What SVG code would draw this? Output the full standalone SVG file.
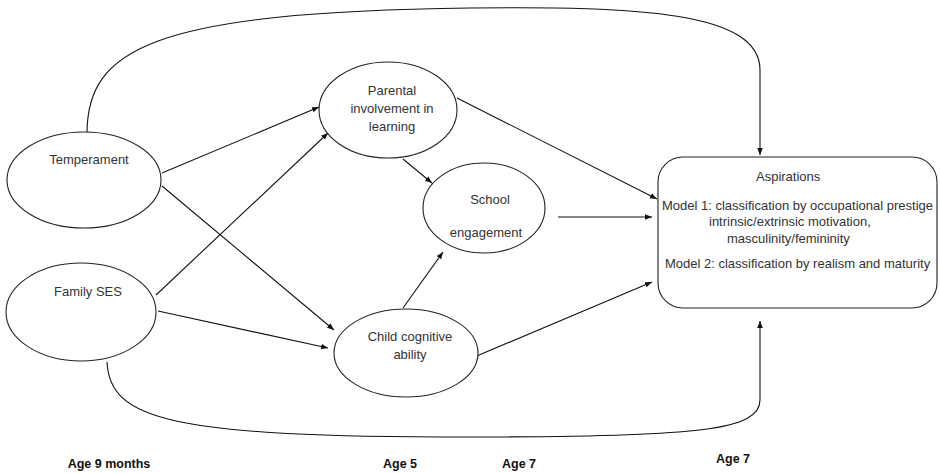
<svg xmlns="http://www.w3.org/2000/svg" width="940" height="473" viewBox="0 0 940 473">
<defs>
<marker id="ah" viewBox="0 0 10 10" refX="10" refY="5" markerWidth="7" markerHeight="7" markerUnits="userSpaceOnUse" orient="auto">
<path d="M0,1 L10,5 L0,9 z" fill="#111"/>
</marker>
</defs>
<style>
.node{fill:#fff;stroke:#222;stroke-width:1.1}
.lbl{font-family:"Liberation Sans",Arial,sans-serif;font-size:13px;fill:#333;text-anchor:middle}
.box{font-family:"Liberation Sans",Arial,sans-serif;font-size:13px;fill:#333}
.age{font-family:"Liberation Sans",Arial,sans-serif;font-size:12.5px;font-weight:bold;fill:#111;text-anchor:middle}
.edge{fill:none;stroke:#111;stroke-width:1.1;marker-end:url(#ah)}
</style>
<rect width="940" height="473" fill="#fff"/>
<g id="connectors">
<path class="edge" d="M87,132 C88,50 150,12 470,8 C640,6 760,12 760,70 L760,155"/>
<path class="edge" d="M107,362 C110,420 170,437 470,437 C700,437 760,430 760,400 L760,321"/>
<path class="edge" d="M162,173 L319,107"/>
<path class="edge" d="M162,186 L334,330"/>
<path class="edge" d="M156,295 L328,133"/>
<path class="edge" d="M158,311 L328,348"/>
<path class="edge" d="M403,159 L432,183"/>
<path class="edge" d="M403,308 L443,252"/>
<path class="edge" d="M457,98 L657,199"/>
<path class="edge" d="M558,217 L652,217"/>
<path class="edge" d="M472,358 L652,282"/>
</g>
<g id="temperament">
<ellipse class="node" cx="84" cy="180" rx="77" ry="48"/>
<text class="lbl" x="89" y="164">Temperament</text>
</g>
<g id="family-ses">
<ellipse class="node" cx="81" cy="312" rx="75" ry="49"/>
<text class="lbl" x="88" y="296">Family SES</text>
</g>
<g id="parental">
<ellipse class="node" cx="388" cy="110" rx="69" ry="48"/>
<text class="lbl" x="392" y="95">Parental</text>
<text class="lbl" x="392" y="113">involvement in</text>
<text class="lbl" x="392" y="131">learning</text>
</g>
<g id="school">
<ellipse class="node" cx="484" cy="208" rx="61" ry="45"/>
<text class="lbl" x="490" y="204">School</text>
<text class="lbl" x="486" y="237">engagement</text>
</g>
<g id="child">
<ellipse class="node" cx="406" cy="353" rx="72" ry="44"/>
<text class="lbl" x="410" y="341">Child cognitive</text>
<text class="lbl" x="410" y="359">ability</text>
</g>
<g id="aspirations">
<rect class="node" x="658" y="157" width="279" height="151" rx="25" ry="25"/>
<text class="box" x="756" y="181">Aspirations</text>
<text class="box" x="662" y="210">Model 1: classification by occupational prestige</text>
<text class="box" x="709" y="226">intrinsic/extrinsic motivation,</text>
<text class="box" x="727" y="243">masculinity/femininity</text>
<text class="box" x="665" y="268">Model 2: classification by realism and maturity</text>
</g>
<g id="ages">
<text class="age" x="109" y="468">Age 9 months</text>
<text class="age" x="400" y="468">Age 5</text>
<text class="age" x="519" y="468">Age 7</text>
<text class="age" x="733" y="463">Age 7</text>
</g>
</svg>
